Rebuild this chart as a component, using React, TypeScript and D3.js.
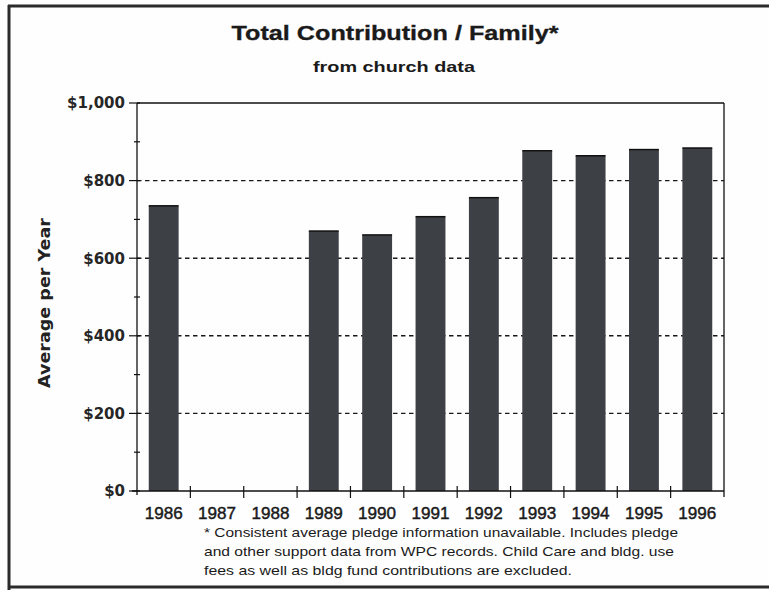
import React from 'react';
import * as d3 from 'd3';

const years: string[] = ['1986', '1987', '1988', '1989', '1990', '1991', '1992', '1993', '1994', '1995', '1996'];
const values: (number | null)[] = [735, null, null, 670, 660, 707, 756, 877, 864, 880, 884];
const yTickValues: number[] = [0, 200, 400, 600, 800, 1000];
const yTickLabels: string[] = ['$0', '$200', '$400', '$600', '$800', '$1,000'];
const gridValues: number[] = [200, 400, 600, 800];
const minorTickValues: number[] = [100, 300, 500, 700, 900];
const title = 'Total Contribution / Family*';
const subtitle = 'from church data';
const yAxisTitle = 'Average per Year';
const footnoteLines: string[] = [
  '* Consistent average pledge information unavailable. Includes pledge',
  'and other support data from WPC records. Child Care and bldg. use',
  'fees as well as bldg fund contributions are  excluded.',
];
const footnoteWidths: number[] = [474, 470, 368];

const W = 769;
const H = 590;
const PL = 137;
const PR = 724;
const PT = 103;
const PB = 491;

export default function App() {
  const x = d3.scaleBand<string>().domain(years).range([PL, PR]).paddingInner(0.44).paddingOuter(0.22);
  const xStep = d3.scaleBand<string>().domain(years).range([PL, PR]).padding(0);
  const y = d3.scaleLinear().domain([0, 1000]).range([PB, PT]);
  const bars = years
    .map((yr, i) => ({ yr, v: values[i] }))
    .filter((d) => d.v !== null) as { yr: string; v: number }[];

  const bounds = d3.range(0, years.length + 1).map((i) => PL + i * xStep.step());

  return (
    <svg
      width={W}
      height={H}
      style={{ position: 'absolute', left: 0, top: 0, background: '#fff' }}
      fontFamily="'Liberation Sans', Arial, sans-serif"
    >
      <rect x={0} y={0} width={W} height={H} fill="#fefefe" />
      {/* outer frame of the scanned page */}
      <line x1={9} y1={5} x2={9} y2={590} stroke="#2b2b2b" strokeWidth={3} />
      <line x1={8} y1={6} x2={769} y2={6} stroke="#2b2b2b" strokeWidth={3} />
      <line x1={8} y1={587} x2={769} y2={587} stroke="#2b2b2b" strokeWidth={3} />

      {/* titles */}
      <text x={395} y={40} textAnchor="middle" fontWeight="bold" fontSize={20} fill="#1a1a1a" stroke="#1a1a1a" strokeWidth={0.3} textLength={327} lengthAdjust="spacingAndGlyphs">
        {title}
      </text>
      <text x={394} y={72} textAnchor="middle" fontWeight="bold" fontSize={15} fill="#1a1a1a" textLength={162} lengthAdjust="spacingAndGlyphs">
        {subtitle}
      </text>

      {/* gridlines */}
      {gridValues.map((v) => (
        <line key={'g' + v} x1={PL} x2={PR} y1={y(v)} y2={y(v)} stroke="#1a1a1a" strokeWidth={1.4} strokeDasharray="4.5,3.5" />
      ))}

      {/* bars */}
      {bars.map((d) => (
        <g key={d.yr}>
          <rect x={x(d.yr)} y={y(d.v)} width={x.bandwidth()} height={PB - y(d.v)} fill="#3d4045" />
          <line x1={x(d.yr)} x2={(x(d.yr) as number) + x.bandwidth()} y1={y(d.v)} y2={y(d.v)} stroke="#111" strokeWidth={1.5} />
        </g>
      ))}

      {/* plot frame */}
      <line x1={PL} x2={PR} y1={PT} y2={PT} stroke="#111" strokeWidth={1.3} />
      <line x1={PR} x2={PR} y1={PT} y2={PB + 6} stroke="#111" strokeWidth={1.3} />
      <line x1={PL} x2={PL} y1={PT} y2={PB + 4} stroke="#111" strokeWidth={1.3} />
      <line x1={PL - 5} x2={PR} y1={PB} y2={PB} stroke="#111" strokeWidth={1.3} />

      {/* y ticks */}
      {yTickValues.map((v, i) => (
        <g key={'yt' + v}>
          <line x1={PL - 8} x2={PL + 3} y1={y(v)} y2={y(v)} stroke="#111" strokeWidth={1.2} />
          <text
            x={125}
            y={y(v)}
            dy="0.36em"
            textAnchor="end"
            fontFamily="'DejaVu Sans', sans-serif"
            fontWeight="bold"
            fontSize={15}
            fill="#262626"
          >
            {yTickLabels[i]}
          </text>
        </g>
      ))}
      {minorTickValues.map((v) => (
        <line key={'mt' + v} x1={PL - 3} x2={PL + 3} y1={y(v)} y2={y(v)} stroke="#111" strokeWidth={1.2} />
      ))}

      {/* x ticks */}
      {bounds.slice(1, -1).map((bx, i) => (
        <line key={'xt' + i} x1={bx} x2={bx} y1={PB - 5} y2={PB + 7} stroke="#111" strokeWidth={1.2} />
      ))}
      {years.map((yr) => (
        <text
          key={'xl' + yr}
          x={(xStep(yr) as number) + xStep.bandwidth() / 2}
          y={519}
          textAnchor="middle"
          fontSize={17}
          fill="#1a1a1a"
          stroke="#1a1a1a"
          strokeWidth={0.45}
          textLength={38}
          lengthAdjust="spacingAndGlyphs"
        >
          {yr}
        </text>
      ))}

      {/* y axis title */}
      <text
        transform={`translate(50, ${(PT + PB) / 2 + 6}) rotate(-90)`}
        textAnchor="middle"
        fontFamily="'DejaVu Sans', sans-serif"
        fontWeight="bold"
        fontSize={16}
        fill="#222"
        textLength={170}
        lengthAdjust="spacingAndGlyphs"
      >
        {yAxisTitle}
      </text>

      {/* footnote */}
      {footnoteLines.map((t, i) => (
        <text
          key={'fn' + i}
          x={204}
          y={537 + i * 19}
          fontSize={13.5}
          fill="#1a1a1a"
          textLength={footnoteWidths[i]}
          lengthAdjust="spacingAndGlyphs"
        >
          {t}
        </text>
      ))}
    </svg>
  );
}
